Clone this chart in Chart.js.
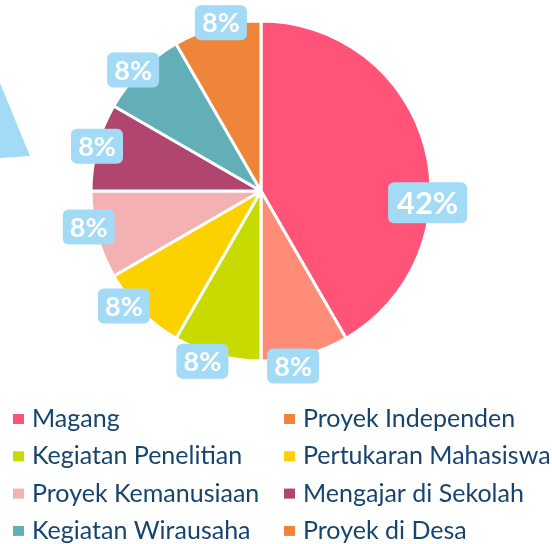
<!DOCTYPE html>
<html>
<head>
<meta charset="utf-8">
<script src="https://cdn.jsdelivr.net/npm/chart.js@4.4.1/dist/chart.umd.min.js"></script>
<style>
  html, body { margin: 0; padding: 0; background: #ffffff; }
  #wrap { width: 552px; height: 544px; position: relative; }
</style>
</head>
<body>
<div id="wrap"><canvas id="pie" width="552" height="544"></canvas></div>
<script>
const programNames = [
  "Magang",
  "Proyek Independen",
  "Kegiatan Penelitian",
  "Pertukaran Mahasiswa",
  "Proyek Kemanusiaan",
  "Mengajar di Sekolah",
  "Kegiatan Wirausaha",
  "Proyek di Desa"
];
const programCounts = [5, 1, 1, 1, 1, 1, 1, 1];

const sliceColors = ["#FF5378", "#FF8C77", "#C8DB00", "#FDD000", "#F4B1B1", "#B04670", "#62AFB8", "#EF8539"];
const legendColors = ["#FF5378", "#EF8539", "#C8DB00", "#FDD000", "#F4B1B1", "#B04670", "#62AFB8", "#EF8539"];

// light blue decoration peeking in at the left edge
const cornerShape = {
  id: "cornerShape",
  beforeDraw(chart) {
    const ctx = chart.ctx;
    ctx.save();
    ctx.fillStyle = "#A3DAF5";
    ctx.beginPath();
    ctx.moveTo(0, 83);
    ctx.lineTo(30, 156);
    ctx.lineTo(0, 158);
    ctx.closePath();
    ctx.fill();
    ctx.restore();
  }
};

// percentage badges on each slice
const badgeLabels = {
  id: "badgeLabels",
  afterDatasetsDraw(chart, args, opts) {
    const ctx = chart.ctx;
    const data = chart.data.datasets[0].data;
    const total = data.reduce((a, b) => a + b, 0);
    const arcs = chart.getDatasetMeta(0).data;
    ctx.save();
    arcs.forEach((arc, i) => {
      const p = arc.getProps(["x", "y", "startAngle", "endAngle", "outerRadius"], true);
      const ang = (p.startAngle + p.endAngle) / 2 + opts.da[i] * Math.PI / 180;
      const r = p.outerRadius + opts.dr[i];
      const cx = p.x + Math.cos(ang) * r;
      const cy = p.y + Math.sin(ang) * r;
      const text = Math.round(data[i] / total * 100) + "%";
      const big = i === 0;
      const size = big ? 31 : 27;
      ctx.font = "bold " + size + "px Lato";
      const w = big ? 79 : 52;
      const h = big ? 41 : 35;
      ctx.fillStyle = "#A3DAF5";
      ctx.beginPath();
      ctx.roundRect(cx - w / 2, cy - h / 2, w, h, 6);
      ctx.fill();
      ctx.fillStyle = "#ffffff";
      ctx.textAlign = "center";
      ctx.textBaseline = "middle";
      ctx.fillText(text, cx, cy + 1);
    });
    ctx.restore();
  }
};

// two-column legend under the pie
const gridLegend = {
  id: "gridLegend",
  afterDraw(chart, args, opts) {
    const ctx = chart.ctx;
    const labels = chart.data.labels;
    ctx.save();
    ctx.font = opts.fontSize + "px Lato";
    ctx.textBaseline = "alphabetic";
    ctx.textAlign = "left";
    labels.forEach((name, i) => {
      const col = i % 2;
      const row = Math.floor(i / 2);
      const x = opts.left + col * opts.colWidth;
      const yc = opts.top + row * opts.rowHeight;
      ctx.fillStyle = legendColors[i];
      ctx.fillRect(x, yc - 5, 11, 10);
      ctx.fillStyle = "#17446E";
      ctx.fillText(name, x + 19, yc + 8);
    });
    ctx.restore();
  }
};

new Chart(document.getElementById("pie"), {
  type: "pie",
  data: {
    labels: programNames,
    datasets: [{
      data: programCounts,
      backgroundColor: sliceColors,
      borderColor: "#ffffff",
      borderWidth: 3
    }]
  },
  options: {
    responsive: false,
    animation: false,
    radius: 170,
    layout: { padding: { left: 0, right: 30, top: 0, bottom: 162 } },
    plugins: {
      legend: { display: false },
      tooltip: { enabled: false },
      badgeLabels: {
        da: [19, 4.6, 4, 5, 3.2, 0.3, -1.6, 1.6],
        dr: [-3, 8, 10, 9, 6, 0, 6, 3]
      },
      gridLegend: { left: 13, top: 419, colWidth: 271, rowHeight: 37.3, fontSize: 25 }
    }
  },
  plugins: [cornerShape, badgeLabels, gridLegend]
});
</script>
</body>
</html>
